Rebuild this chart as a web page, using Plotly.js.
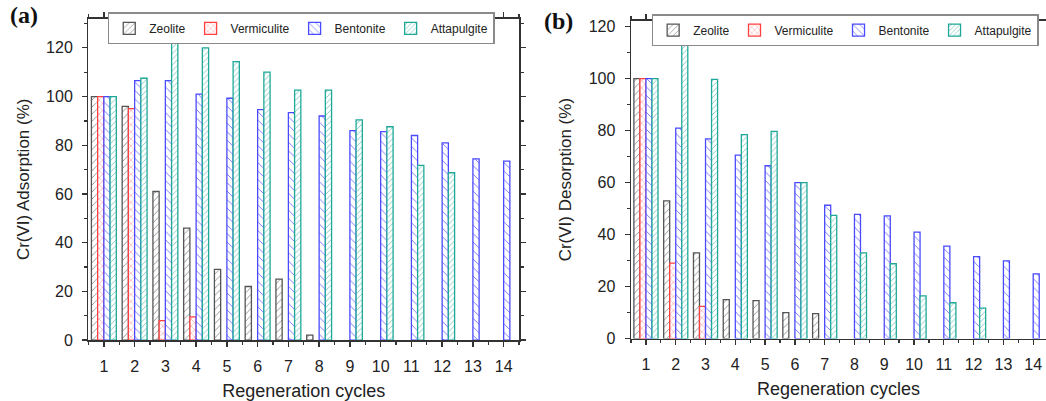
<!DOCTYPE html>
<html>
<head>
<meta charset="utf-8">
<script src="https://cdn.plot.ly/plotly-3.0.1.min.js"></script>
<style>html,body{margin:0;padding:0;background:#fff;}#chart{width:1046px;height:401px;}</style>
</head>
<body>
<div id="chart"></div>
<script>
const cycles = [1,2,3,4,5,6,7,8,9,10,11,12,13,14];
const tickLabels = ["1","2","3","4","5","6","7","8","9","10","11","12","13","14"];
const seriesNames = ["Zeolite","Vermiculite","Bentonite","Attapulgite"];

// (a) Cr(VI) adsorption (%)
const adsZeolite     = [100,96,61,46,29,22,25,2,null,null,null,null,null,null];
const adsVermiculite = [100,95,8,9.5,null,null,null,null,null,null,null,null,null,null];
const adsBentonite   = [100,106.5,106.5,101,99.3,94.6,93.4,92,86,85.6,84,81,74.4,73.5];
const adsAttapulgite = [100,107.5,122,120,114.3,110,102.6,102.6,90.4,87.6,71.7,68.7,null,null];

// (b) Cr(VI) desorption (%)
const desZeolite     = [100,53,33,15,14.6,10,9.6,null,null,null,null,null,null,null];
const desVermiculite = [100,29,12.4,null,null,null,null,null,null,null,null,null,null,null];
const desBentonite   = [100,81,76.8,70.6,66.5,60,51.3,47.8,47.2,41,35.6,31.5,29.9,24.9];
const desAttapulgite = [100,113.5,99.7,78.5,79.7,60,47.4,33,28.8,16.4,13.8,11.7,null,null];

const styles = [
  {line:'#555555', fg:'#777777', shape:'/', size:5},
  {line:'#ff4040', fg:'#ff6a6a', shape:'x', size:5},
  {line:'#4a4aff', fg:'#6f6fff', shape:'\\', size:6},
  {line:'#1fa898', fg:'#33b0a2', shape:'/', size:4}
];

function makeTraces(dataSets, xa, ya, legend) {
  return dataSets.map((d, i) => ({
    type: 'bar',
    name: seriesNames[i],
    x: cycles,
    y: d,
    xaxis: xa,
    yaxis: ya,
    legend: legend,
    marker: {
      color: 'rgba(255,255,255,1)',
      line: {color: styles[i].line, width: 1.3},
      pattern: {shape: styles[i].shape, fgcolor: styles[i].fg, bgcolor: '#ffffff', size: styles[i].size, solidity: 0.15, fillmode: 'replace'}
    },
    hoverinfo: 'x+y+name'
  }));
}

const traces = [
  ...makeTraces([adsZeolite, adsVermiculite, adsBentonite, adsAttapulgite], 'x', 'y', 'legend'),
  ...makeTraces([desZeolite, desVermiculite, desBentonite, desAttapulgite], 'x2', 'y2', 'legend2')
];

const FAM = 'Liberation Sans, Arial, sans-serif';
const axisFont = {family: FAM, size: 16, color: '#222'};
const baseX = {
  range: [0.5, 14.5],
  tickmode: 'array', tickvals: cycles, ticktext: tickLabels,
  ticks: 'outside', ticklen: 5, tickwidth: 1.3, tickcolor: '#333',
  minor: {dtick: 0.5, tick0: 0.5, ticks: 'outside', ticklen: 3, tickcolor: '#333'},
  showline: true, linecolor: '#333', linewidth: 1.5, mirror: 'ticks',
  showgrid: false, zeroline: false,
  tickfont: axisFont, ticklabelstandoff: 6,
  title: {text: 'Regeneration cycles', font: {family: FAM, size: 18, color: '#222'}, standoff: 10}
};
const baseY = {
  dtick: 20, tick0: 0,
  ticks: 'outside', ticklen: 5, tickwidth: 1.3, tickcolor: '#333',
  minor: {dtick: 10, ticks: 'outside', ticklen: 3, tickcolor: '#333'},
  showline: true, linecolor: '#333', linewidth: 1.5, mirror: 'ticks',
  showgrid: false, zeroline: false,
  tickfont: axisFont, ticklabelstandoff: 6
};

const legendBase = {
  orientation: 'h', xanchor: 'left', yanchor: 'middle',
  bgcolor: '#ffffff', bordercolor: '#8a8a8a', borderwidth: 1.5,
  font: {family: FAM, size: 12, color: '#222'},
  tracegroupgap: 0, itemwidth: 30
};

const layout = {
  width: 1046, height: 401,
  margin: {l: 0, r: 0, t: 0, b: 0},
  paper_bgcolor: '#fff', plot_bgcolor: '#fff',
  showlegend: true,
  barmode: 'group', bargap: 0.19, bargroupgap: 0,
  xaxis: Object.assign({}, baseX, {domain: [0.0846, 0.4962], anchor: 'y'}),
  yaxis: Object.assign({}, baseY, {domain: [0.152, 0.9536], range: [0, 132], anchor: 'x',
    title: {text: 'Cr(VI) Adsorption (%)', font: {family: FAM, size: 17, color: '#222'}, standoff: 12}}),
  xaxis2: Object.assign({}, baseX, {domain: [0.6033, 1.0], range: [0.5, 14.43], anchor: 'y2'}),
  yaxis2: Object.assign({}, baseY, {domain: [0.1556, 0.9484], range: [0, 122.3], anchor: 'x2',
    title: {text: 'Cr(VI) Desorption (%)', font: {family: FAM, size: 17, color: '#222'}, standoff: 12}}),
  legend: Object.assign({}, legendBase, {x: 0.103, y: 0.929}),
  legend2: Object.assign({}, legendBase, {x: 0.623, y: 0.925}),
  annotations: [
    {text: '<b>(a)</b>', xref: 'paper', yref: 'paper', x: 0.008, y: 1.0, xanchor: 'left', yanchor: 'top', showarrow: false,
     font: {family: 'Liberation Serif, Times New Roman, serif', size: 24, color: '#111'}},
    {text: '<b>(b)</b>', xref: 'paper', yref: 'paper', x: 0.518, y: 0.985, xanchor: 'left', yanchor: 'top', showarrow: false,
     font: {family: 'Liberation Serif, Times New Roman, serif', size: 24, color: '#111'}}
  ]
};

Plotly.newPlot('chart', traces, layout, {displayModeBar: false, staticPlot: true});
</script>
</body>
</html>
